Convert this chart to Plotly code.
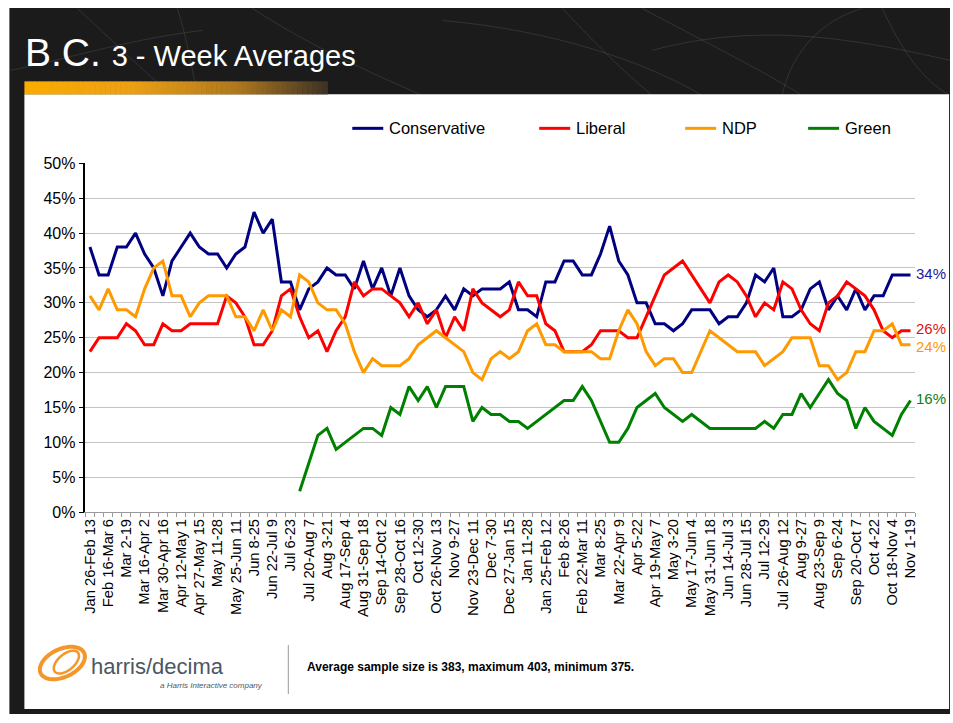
import numpy as np
import plotly.graph_objects as go

W, H = 953, 723

# ---------------- data ----------------
tick_labels = ["Jan 26-Feb 13", "Feb 16-Mar 6", "Mar 2-19", "Mar 16-Apr 2", "Mar 30-Apr 16",
               "Apr 12-May 1", "Apr 27-May 15", "May 11-28", "May 25-Jun 11", "Jun 8-25",
               "Jun 22-Jul 9", "Jul 6-23", "Jul 20-Aug 7", "Aug 3-21", "Aug 17-Sep 4",
               "Aug 31-Sep 18", "Sep 14-Oct 2", "Sep 28-Oct 16", "Oct 12-30", "Oct 26-Nov 13",
               "Nov 9-27", "Nov 23-Dec 11", "Dec 7-30", "Dec 27-Jan 15", "Jan 11-28",
               "Jan 25-Feb 12", "Feb 8-26", "Feb 22-Mar 11", "Mar 8-25", "Mar 22-Apr 9",
               "Apr 5-22", "Apr 19-May 7", "May 3-20", "May 17-Jun 4", "May 31-Jun 18",
               "Jun 14-Jul 3", "Jun 28-Jul 15", "Jul 12-29", "Jul 26-Aug 12", "Aug 9-27",
               "Aug 23-Sep 9", "Sep 6-24", "Sep 20-Oct 7", "Oct 4-22", "Oct 18-Nov 4", "Nov 1-19"]

conservative = [38, 34, 34, 38, 38, 40, 37, 35, 31, 36, 38, 40, 38, 37, 37, 35, 37, 38, 43, 40, 42, 33, 33, 29,
                32, 33, 35, 34, 34, 32, 36, 32, 35, 31, 35, 31, 29, 28, 29, 31, 29, 32, 31, 32, 32, 32, 33,
                29, 29, 28, 33, 33, 36, 36, 34, 34, 37, 41, 36, 34, 30, 30, 27, 27, 26, 27, 29, 29, 29, 27, 28,
                28, 30, 34, 33, 35, 28, 28, 29, 32, 33, 29, 31, 29, 32, 29, 31, 31, 34, 34, 34]
liberal = [23, 25, 25, 25, 27, 26, 24, 24, 27, 26, 26, 27, 27, 27, 27, 31, 30, 28, 24, 24, 26, 31, 32, 28,
           25, 26, 23, 26, 28, 33, 31, 32, 32, 31, 30, 28, 30, 27, 29, 25, 28, 26, 32, 30, 29, 28, 29,
           33, 31, 31, 27, 26, 23, 23, 23, 24, 26, 26, 26, 25, 25, 28, 31, 34, 35, 36, 34, 32, 30, 33, 34,
           33, 31, 28, 30, 29, 33, 32, 29, 27, 26, 30, 31, 33, 32, 31, 29, 26, 25, 26, 26]
ndp = [31, 29, 32, 29, 29, 28, 32, 35, 36, 31, 31, 28, 30, 31, 31, 31, 28, 28, 26, 29, 26, 29, 28, 34,
       33, 30, 29, 29, 27, 23, 20, 22, 21, 21, 21, 22, 24, 25, 26, 25, 24, 23, 20, 19, 22, 23, 22,
       23, 26, 27, 24, 24, 23, 23, 23, 23, 22, 22, 26, 29, 27, 23, 21, 22, 22, 20, 20, 23, 26, 25, 24,
       23, 23, 23, 21, 22, 23, 25, 25, 25, 21, 21, 19, 20, 23, 23, 26, 26, 27, 24, 24]
green = [None] * 23 + [3, 7, 11, 12, 9, 10, 11, 12, 12, 11, 15, 14, 18, 16, 18, 15, 18, 18, 18, 13, 15, 14, 14, 13,
                       13, 12, 13, 14, 15, 16, 16, 18, 16, 13, 10, 10, 12, 15, 16, 17, 15, 14, 13, 14, 13, 12, 12, 12,
                       12, 12, 12, 13, 12, 14, 14, 17, 15, 17, 19, 17, 16, 12, 15, 13, 12, 11, 14, 16]

series_names = ["Conservative", "Liberal", "NDP", "Green"]
series_values = [conservative, liberal, ndp, green]
series_colors = ["#000080", "#FF0000", "#FF9900", "#008000"]

n = len(conservative)
x_idx = list(range(n))

# ---------------- helpers (target pixel -> paper fraction) ----------------
SX, BX = 0.993, 1.6
SY, BY = 0.977, 7.6


def px(x):
    return ((x - BX) / SX) / W


def py(y):
    return 1 - ((y - BY) / SY) / H


def cl(v):
    return min(max(v, 0.0), 1.0)


FONT = "Liberation Sans, Arial, Helvetica, sans-serif"

fig = go.Figure()

for name, vals, col in zip(series_names, series_values, series_colors):
    fig.add_trace(go.Scatter(x=x_idx, y=vals, mode="lines", name=name,
                             line=dict(color=col, width=3), connectgaps=False,
                             showlegend=False, hoverinfo="x+y+name"))

shapes = []
annotations = []

# dark slide background
shapes.append(dict(type="rect", xref="paper", yref="paper", x0=cl(px(7)), x1=1, y0=0, y1=cl(py(6)),
                   fillcolor="#1b1b1b", line=dict(width=0), layer="below"))
# faint decorative curves in header
curves = [
    (75, 8, 110, 40, 140, 70, 170, 95),
    (175, 8, 185, 40, 190, 70, 195, 95),
    (250, 8, 300, 40, 340, 60, 420, 95),
    (440, 20, 550, 30, 640, 60, 700, 95),
    (560, 8, 600, 50, 620, 70, 650, 95),
    (640, 8, 700, 40, 760, 70, 800, 95),
    (780, 95, 790, 50, 820, 20, 860, 8),
    (880, 8, 900, 50, 920, 80, 948, 95),
    (8, 70, 60, 60, 120, 40, 200, 30),
    (650, 50, 760, 20, 860, 40, 948, 60),
]
for c in curves:
    p = "M {} {} C {} {} {} {} {} {}".format(px(c[0]), py(c[1]), px(c[2]), py(c[3]),
                                            px(c[4]), py(c[5]), px(c[6]), py(c[7]))
    shapes.append(dict(type="path", xref="paper", yref="paper", path=p,
                       line=dict(color="rgba(255,255,255,0.10)", width=1), layer="below"))

# white content panel
shapes.append(dict(type="rect", xref="paper", yref="paper", x0=px(22), x1=cl(px(947)), y0=cl(py(709)), y1=py(94),
                   fillcolor="white", line=dict(width=0), layer="below"))

# orange gradient bar
stops = [(0.0, (250, 172, 0)), (0.35, (236, 160, 20)), (0.7, (175, 120, 30)), (1.0, (60, 50, 38))]


def grad(t):
    for (t0, c0), (t1, c1) in zip(stops[:-1], stops[1:]):
        if t0 <= t <= t1:
            f = (t - t0) / (t1 - t0)
            return tuple(int(round(a + (b - a) * f)) for a, b in zip(c0, c1))
    return stops[-1][1]


nseg = 60
bx0, bx1 = 22, 325
for k in range(nseg):
    xa = bx0 + (bx1 - bx0) * k / nseg
    xb = bx0 + (bx1 - bx0) * (k + 1) / nseg + 0.6
    r, g, b = grad((k + 0.5) / nseg)
    shapes.append(dict(type="rect", xref="paper", yref="paper", x0=px(xa), x1=px(xb), y0=py(94), y1=py(81),
                       fillcolor=f"rgb({r},{g},{b})", line=dict(width=0), layer="below"))

# title
annotations.append(dict(xref="paper", yref="paper", x=px(21), y=py(76), xanchor="left", yanchor="bottom",
                        showarrow=False,
                        text="B.C. <span style='font-size:29px'>3 - Week Averages</span>",
                        font=dict(family=FONT, size=39, color="white")))

# manual legend
legend_pos = [350, 537, 683, 806]
for name, col, lx in zip(series_names, series_colors, legend_pos):
    shapes.append(dict(type="line", xref="paper", yref="paper", x0=px(lx), x1=px(lx + 31),
                       y0=py(128), y1=py(128), line=dict(color=col, width=3)))
    annotations.append(dict(xref="paper", yref="paper", x=px(lx + 35), y=py(128), xanchor="left",
                            yanchor="middle", showarrow=False, text=name,
                            font=dict(family=FONT, size=16.5, color="black")))

# end-of-line value labels
end_colors = ["#2020A0", "#E01010", "#FF9900", "#108010"]
end_shift = [1, 2, -2, 2]
for vals, col, ys in zip(series_values, end_colors, end_shift):
    v = vals[-1]
    annotations.append(dict(xref="x", yref="y", x=x_idx[-1], y=v, xanchor="left", yanchor="middle",
                            xshift=3, yshift=ys, showarrow=False, text=f"{v}%",
                            font=dict(family=FONT, size=15, color=col)))


# logo: two tilted loops
def ellipse_path(ex, ey, rx, ry, ang_deg, npts=60):
    a = np.deg2rad(ang_deg)
    t = np.linspace(0, 2 * np.pi, npts)
    xs = ex + rx * np.cos(t) * np.cos(a) - ry * np.sin(t) * np.sin(a)
    ys = ey + rx * np.cos(t) * np.sin(a) + ry * np.sin(t) * np.cos(a)
    pts = [f"{px(xx):.5f},{py(yy):.5f}" for xx, yy in zip(xs, ys)]
    return "M " + " L ".join(pts) + " Z"


shapes.append(dict(type="path", xref="paper", yref="paper", path=ellipse_path(60, 663, 24, 14, -25),
                   line=dict(color="#F4962A", width=4)))
shapes.append(dict(type="path", xref="paper", yref="paper", path=ellipse_path(64, 662, 15, 8, -40),
                   line=dict(color="#F4962A", width=2.5)))
annotations.append(dict(xref="paper", yref="paper", x=px(87), y=py(666), xanchor="left", yanchor="middle",
                        showarrow=False, text="harris/decima",
                        font=dict(family=FONT, size=22, color="#4B5762")))
annotations.append(dict(xref="paper", yref="paper", x=px(263), y=py(685), xanchor="right", yanchor="middle",
                        showarrow=False, text="<i>a Harris Interactive company</i>",
                        font=dict(family=FONT, size=8, color="#4B5762")))
shapes.append(dict(type="line", xref="paper", yref="paper", x0=px(286), x1=px(286), y0=py(645), y1=py(694),
                   line=dict(color="#999999", width=1)))
annotations.append(dict(xref="paper", yref="paper", x=px(303), y=py(667), xanchor="left", yanchor="middle",
                        showarrow=False, text="<b>Average sample size is 383, maximum 403, minimum 375.</b>",
                        font=dict(family=FONT, size=12, color="black")))

fig.update_layout(
    width=W, height=H,
    margin=dict(l=0, r=0, t=0, b=0),
    paper_bgcolor="white",
    plot_bgcolor="white",
    font=dict(family=FONT, color="black"),
    shapes=shapes,
    annotations=annotations,
    showlegend=False,
    xaxis=dict(domain=[px(83), px(913)], range=[-0.5, n - 0.5],
               tickmode="array", tickvals=x_idx[::2], ticktext=tick_labels,
               tickangle=-90, ticks="", tickfont=dict(family=FONT, size=14.7, color="black"),
               showgrid=False, zeroline=False, showline=True, linecolor="#9a9a9a", linewidth=1,
               minor=dict(tickmode="array", tickvals=[i - 0.5 for i in range(n + 1)], ticks="outside",
                          ticklen=4, tickcolor="#9a9a9a", showgrid=False),
               fixedrange=True),
    yaxis=dict(domain=[py(512), py(163)], range=[0, 50], dtick=5, tick0=0, ticksuffix="%",
               ticks="outside", ticklen=5, tickcolor="black",
               tickfont=dict(family=FONT, size=16, color="black"),
               showgrid=True, gridcolor="#c4c4c4", gridwidth=1.2, zeroline=False,
               showline=True, linecolor="black", linewidth=1.5, fixedrange=True),
)

fig.write_html("out.html",
               config={"displayModeBar": False},
               post_script="document.body.style.margin='0';document.body.style.overflow='hidden';")
